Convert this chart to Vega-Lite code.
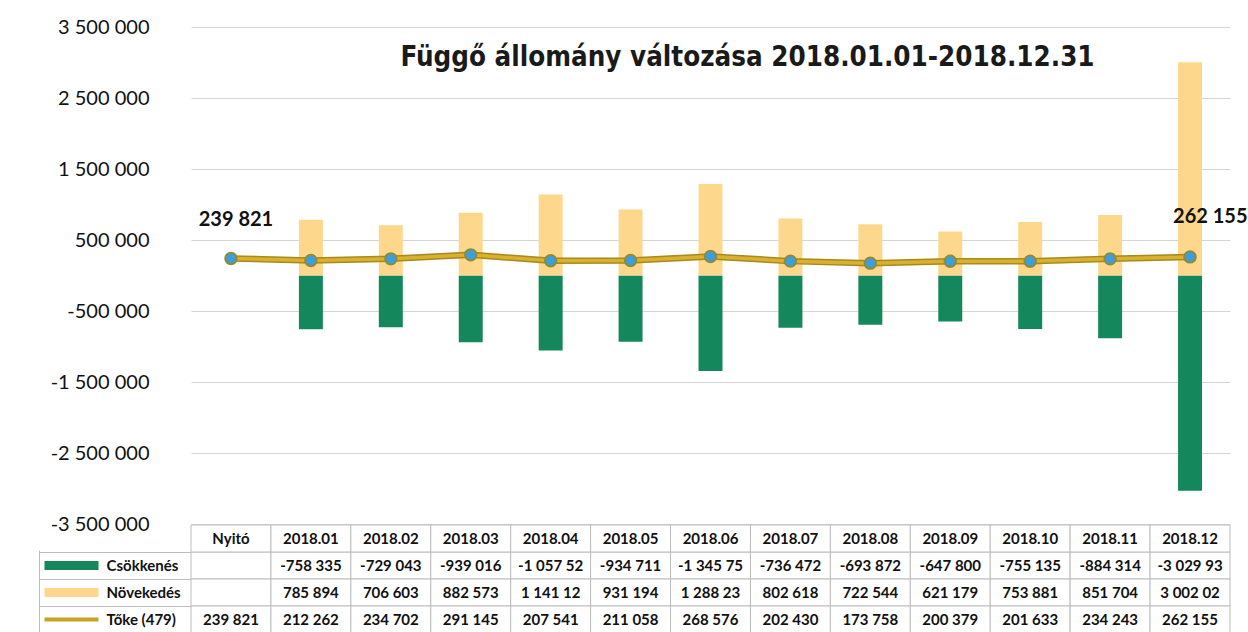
{
  "$schema": "https://vega.github.io/schema/vega-lite/v6.json",
  "padding": {"left": 38, "top": 17, "right": 0, "bottom": 0},
  "background": "white",
  "spacing": 1,
  "bounds": "flush",
  "config": {
    "font": "Lato",
    "view": {"stroke": null},
    "locale": {"number": {"decimal": ",", "thousands": " ", "grouping": [3], "currency": ["", ""], "minus": "-"}}
  },
  "datasets": {
    "series": [
      {"month": "Nyitó", "series": "Csökkenés", "value": null, "label": ""},
      {"month": "Nyitó", "series": "Növekedés", "value": null, "label": ""},
      {"month": "Nyitó", "series": "Tőke (479)", "value": 239821, "label": "239 821"},
      {"month": "2018.01", "series": "Csökkenés", "value": -758335, "label": "-758 335"},
      {"month": "2018.01", "series": "Növekedés", "value": 785894, "label": "785 894"},
      {"month": "2018.01", "series": "Tőke (479)", "value": 212262, "label": "212 262"},
      {"month": "2018.02", "series": "Csökkenés", "value": -729043, "label": "-729 043"},
      {"month": "2018.02", "series": "Növekedés", "value": 706603, "label": "706 603"},
      {"month": "2018.02", "series": "Tőke (479)", "value": 234702, "label": "234 702"},
      {"month": "2018.03", "series": "Csökkenés", "value": -939016, "label": "-939 016"},
      {"month": "2018.03", "series": "Növekedés", "value": 882573, "label": "882 573"},
      {"month": "2018.03", "series": "Tőke (479)", "value": 291145, "label": "291 145"},
      {"month": "2018.04", "series": "Csökkenés", "value": -1057520, "label": "-1 057 52"},
      {"month": "2018.04", "series": "Növekedés", "value": 1141120, "label": "1 141 12"},
      {"month": "2018.04", "series": "Tőke (479)", "value": 207541, "label": "207 541"},
      {"month": "2018.05", "series": "Csökkenés", "value": -934711, "label": "-934 711"},
      {"month": "2018.05", "series": "Növekedés", "value": 931194, "label": "931 194"},
      {"month": "2018.05", "series": "Tőke (479)", "value": 211058, "label": "211 058"},
      {"month": "2018.06", "series": "Csökkenés", "value": -1345750, "label": "-1 345 75"},
      {"month": "2018.06", "series": "Növekedés", "value": 1288230, "label": "1 288 23"},
      {"month": "2018.06", "series": "Tőke (479)", "value": 268576, "label": "268 576"},
      {"month": "2018.07", "series": "Csökkenés", "value": -736472, "label": "-736 472"},
      {"month": "2018.07", "series": "Növekedés", "value": 802618, "label": "802 618"},
      {"month": "2018.07", "series": "Tőke (479)", "value": 202430, "label": "202 430"},
      {"month": "2018.08", "series": "Csökkenés", "value": -693872, "label": "-693 872"},
      {"month": "2018.08", "series": "Növekedés", "value": 722544, "label": "722 544"},
      {"month": "2018.08", "series": "Tőke (479)", "value": 173758, "label": "173 758"},
      {"month": "2018.09", "series": "Csökkenés", "value": -647800, "label": "-647 800"},
      {"month": "2018.09", "series": "Növekedés", "value": 621179, "label": "621 179"},
      {"month": "2018.09", "series": "Tőke (479)", "value": 200379, "label": "200 379"},
      {"month": "2018.10", "series": "Csökkenés", "value": -755135, "label": "-755 135"},
      {"month": "2018.10", "series": "Növekedés", "value": 753881, "label": "753 881"},
      {"month": "2018.10", "series": "Tőke (479)", "value": 201633, "label": "201 633"},
      {"month": "2018.11", "series": "Csökkenés", "value": -884314, "label": "-884 314"},
      {"month": "2018.11", "series": "Növekedés", "value": 851704, "label": "851 704"},
      {"month": "2018.11", "series": "Tőke (479)", "value": 234243, "label": "234 243"},
      {"month": "2018.12", "series": "Csökkenés", "value": -3029930, "label": "-3 029 93"},
      {"month": "2018.12", "series": "Növekedés", "value": 3002020, "label": "3 002 02"},
      {"month": "2018.12", "series": "Tőke (479)", "value": 262155, "label": "262 155"}
    ]
  },
  "vconcat": [
    {
      "width": 1039,
      "height": 497,
      "title": {
        "text": "Függő állomány változása 2018.01.01-2018.12.31",
        "font": "DejaVu Sans Condensed",
        "fontSize": 27.5,
        "fontWeight": "bold",
        "color": "#1a1a1a",
        "frame": "group",
        "anchor": "middle",
        "dx": 37,
        "offset": -54
      },
      "data": {"name": "series"},
      "encoding": {
        "x": {
          "field": "month",
          "type": "nominal",
          "axis": null,
          "scale": {
            "domain": ["Nyitó", "2018.01", "2018.02", "2018.03", "2018.04", "2018.05", "2018.06", "2018.07", "2018.08", "2018.09", "2018.10", "2018.11", "2018.12"],
            "paddingInner": 0,
            "paddingOuter": 0
          }
        }
      },
      "layer": [
        {
          "transform": [{"filter": "datum.series !== 'Tőke (479)' && isValid(datum.value)"}],
          "mark": {"type": "bar", "width": {"band": 0.3}},
          "encoding": {
            "y": {
              "field": "value",
              "type": "quantitative",
              "stack": null,
              "scale": {"domain": [-3500000, 3500000], "nice": false, "zero": false},
              "axis": {
                "title": null,
                "values": [-3500000, -2500000, -1500000, -500000, 500000, 1500000, 2500000, 3500000],
                "format": ",d",
                "labelFont": "Lato",
                "labelFontSize": 20,
                "labelColor": "#111111",
                "labelPadding": 42,
                "ticks": false,
                "domain": false,
                "grid": true,
                "gridColor": "#d4d4d4",
                "gridWidth": 1
              }
            },
            "color": {
              "field": "series",
              "type": "nominal",
              "scale": {"domain": ["Csökkenés", "Növekedés"], "range": ["#14875c", "#fdd88c"]},
              "legend": null
            }
          }
        },
        {
          "data": {"values": [{}]},
          "mark": {"type": "rule", "color": "#2f6b2f", "strokeWidth": 1.5},
          "encoding": {"y": {"datum": 0, "type": "quantitative"}}
        },
        {
          "transform": [{"filter": "datum.series === 'Tőke (479)'"}],
          "mark": {"type": "line", "color": "#a8891c", "strokeWidth": 6.5},
          "encoding": {"y": {"field": "value", "type": "quantitative"}}
        },
        {
          "transform": [{"filter": "datum.series === 'Tőke (479)'"}],
          "mark": {"type": "line", "color": "#d9b12e", "strokeWidth": 3.5},
          "encoding": {"y": {"field": "value", "type": "quantitative"}}
        },
        {
          "transform": [{"filter": "datum.series === 'Tőke (479)'"}],
          "mark": {"type": "point", "shape": "circle", "filled": true, "size": 130, "fill": "#3a9fdc", "stroke": "#8f8a3a", "strokeWidth": 2, "opacity": 1},
          "encoding": {"y": {"field": "value", "type": "quantitative"}}
        },
        {
          "transform": [{"filter": "datum.series === 'Tőke (479)' && datum.month === 'Nyitó'"}],
          "mark": {"type": "text", "font": "Lato", "fontSize": 20, "fontWeight": "bold", "color": "#111111", "align": "center", "baseline": "middle", "dx": 5, "dy": -38},
          "encoding": {"y": {"field": "value", "type": "quantitative"}, "text": {"field": "value", "type": "quantitative", "format": ",d"}}
        },
        {
          "transform": [{"filter": "datum.series === 'Tőke (479)' && datum.month === '2018.12'"}],
          "mark": {"type": "text", "font": "Lato", "fontSize": 20, "fontWeight": "bold", "color": "#111111", "align": "left", "baseline": "middle", "dx": -17, "dy": -40},
          "encoding": {"y": {"field": "value", "type": "quantitative"}, "text": {"field": "value", "type": "quantitative", "format": ",d"}}
        }
      ]
    },
    {
      "width": 1039,
      "height": 108,
      "data": {"name": "series"},
      "encoding": {
        "x": {
          "field": "month",
          "type": "nominal",
          "axis": null,
          "scale": {
            "domain": ["Nyitó", "2018.01", "2018.02", "2018.03", "2018.04", "2018.05", "2018.06", "2018.07", "2018.08", "2018.09", "2018.10", "2018.11", "2018.12"],
            "paddingInner": 0,
            "paddingOuter": 0
          }
        }
      },
      "resolve": {"axis": {"y": "independent"}},
      "layer": [
        {
          "mark": {"type": "rect", "fill": "white", "stroke": "#bdbdbd", "strokeWidth": 1},
          "encoding": {
            "y": {
              "field": "series",
              "type": "nominal",
              "scale": {"domain": ["hdr", "Csökkenés", "Növekedés", "Tőke (479)"], "paddingInner": 0, "paddingOuter": 0},
              "axis": {
                "orient": "left",
                "title": null,
                "domain": false,
                "grid": false,
                "ticks": true,
                "tickSize": 147,
                "tickWidth": {"expr": "datum.value === 'Tőke (479)' ? 4 : 9"},
                "tickDash": [0, 93, 54, 100],
                "tickColor": {"expr": "datum.value === 'Csökkenés' ? '#14875c' : datum.value === 'Növekedés' ? '#fdd88c' : datum.value === 'Tőke (479)' ? '#c9a227' : 'transparent'"},
                "labelAlign": "left",
                "labelPadding": -62,
                "labelFont": "Lato",
                "labelFontSize": 15,
                "labelFontWeight": "bold",
                "labelColor": "#111111",
                "labelExpr": "datum.value === 'hdr' ? '' : datum.value"
              }
            }
          }
        },
        {
          "transform": [{"filter": "datum.series === 'Tőke (479)'"}],
          "mark": {"type": "rect", "fill": "white", "stroke": "#bdbdbd", "strokeWidth": 1},
          "encoding": {
            "y": {
              "datum": "hdr",
              "type": "nominal",
              "axis": {
                "orient": "left",
                "offset": 152,
                "title": null,
                "labels": false,
                "bandPosition": 0,
                "domain": true,
                "domainColor": "#bdbdbd",
                "domainWidth": 1,
                "domainDash": [0, 25, 1000],
                "ticks": true,
                "tickSize": -152,
                "tickWidth": 1,
                "tickColor": {"expr": "datum.value === 'hdr' ? 'transparent' : '#bdbdbd'"},
                "grid": false
              }
            }
          }
        },
        {
          "transform": [{"filter": "datum.label !== ''"}],
          "mark": {"type": "text", "font": "Lato", "fontSize": 15, "fontWeight": "bold", "color": "#111111", "align": "center", "baseline": "middle"},
          "encoding": {"y": {"field": "series", "type": "nominal", "axis": null}, "text": {"field": "label", "type": "nominal"}}
        },
        {
          "transform": [{"filter": "datum.series === 'Tőke (479)'"}],
          "mark": {"type": "text", "font": "Lato", "fontSize": 15, "fontWeight": "bold", "color": "#111111", "align": "center", "baseline": "middle"},
          "encoding": {"y": {"datum": "hdr", "type": "nominal", "axis": null}, "text": {"field": "month", "type": "nominal"}}
        }
      ]
    }
  ]
}
